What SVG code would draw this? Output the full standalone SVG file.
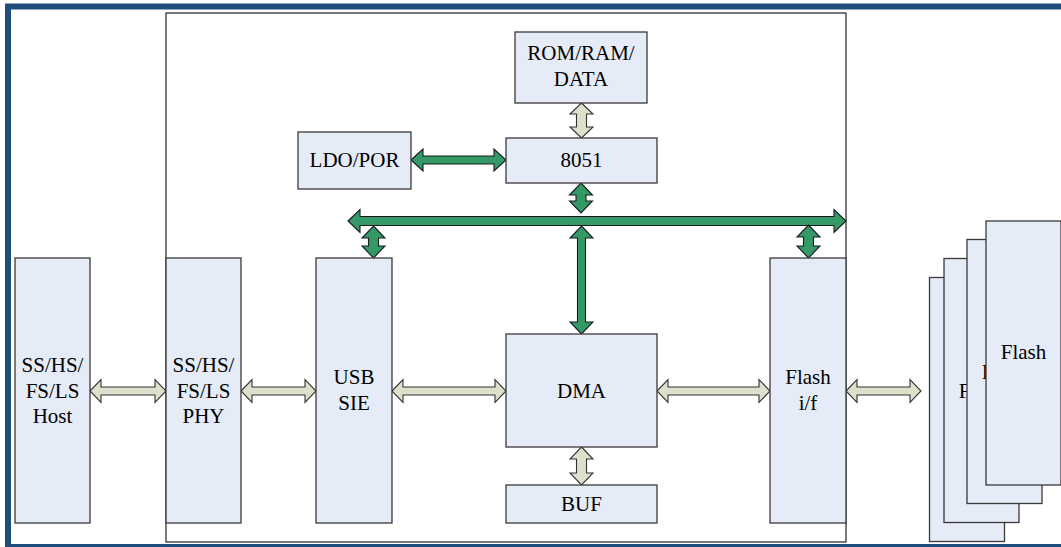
<svg xmlns="http://www.w3.org/2000/svg" width="1061" height="547" viewBox="0 0 1061 547">
<style>
.box{fill:#E5EBF7;stroke:#3a3a3a;stroke-width:1.3}
.t{font-family:"Liberation Serif","Times New Roman",serif;font-size:21px;fill:#000;text-anchor:middle}
.la{fill:#DDE1CC;stroke:#333;stroke-width:1.1;stroke-linejoin:miter}
.ga{fill:#339966;stroke:#1a1a1a;stroke-width:1.1;stroke-linejoin:miter}
</style>
<rect x="0" y="0" width="1061" height="547" fill="#fff"/>
<rect id="frame" x="8" y="6.5" width="1100" height="540.5" fill="none" stroke="#1F4E7D" stroke-width="6"/>
<rect id="chip" x="166" y="13" width="680" height="529" fill="none" stroke="#222" stroke-width="1.2"/>

<g id="connectors">
<polygon class="la" points="90,391 101,379.5 101,387 155,387 155,379.5 166,391 155,402.5 155,395 101,395 101,402.5"/>
<polygon class="la" points="241,391 252,379.5 252,387 305,387 305,379.5 316,391 305,402.5 305,395 252,395 252,402.5"/>
<polygon class="la" points="392,391 403,379.5 403,387 495,387 495,379.5 506,391 495,402.5 495,395 403,395 403,402.5"/>
<polygon class="la" points="657,391 668,379.5 668,387 759,387 759,379.5 770,391 759,402.5 759,395 668,395 668,402.5"/>
<polygon class="la" points="846,391 857,379.5 857,387 910,387 910,379.5 921,391 910,402.5 910,395 857,395 857,402.5"/>
<polygon class="la" points="581.5,103 593,114 586.5,114 586.5,127 593,127 581.5,138 570,127 576.5,127 576.5,114 570,114"/>
<polygon class="la" points="581.5,447 593,459 586.5,459 586.5,473 593,473 581.5,485 570,473 576.5,473 576.5,459 570,459"/>
<polygon class="ga" points="411,160 423,149 423,156 494,156 494,149 506,160 494,171 494,164 423,164 423,171"/>
<polygon class="ga" points="581,183 592.5,195 586,195 586,201 592.5,201 581,213 569.5,201 576,201 576,195 569.5,195"/>
<polygon class="ga" points="348,221 360,209.5 360,216.5 834,216.5 834,209.5 846,221 834,232.5 834,225.5 360,225.5 360,232.5"/>
<polygon class="ga" points="373.5,226 385,238 378.5,238 378.5,246 385,246 373.5,258 362,246 368.5,246 368.5,238 362,238"/>
<polygon class="ga" points="581.5,226 593,238 585.5,238 585.5,322 593,322 581.5,334 570,322 577.5,322 577.5,238 570,238"/>
<polygon class="ga" points="808.5,225 820,237 813.5,237 813.5,246 820,246 808.5,258 797,246 803.5,246 803.5,237 797,237"/>
</g>

<g id="host">
<rect class="box" x="15" y="258" width="75" height="265"/>
<text class="t" x="52.5" y="372">SS/HS/</text>
<text class="t" x="52.5" y="397.5">FS/LS</text>
<text class="t" x="52.5" y="423">Host</text>
</g>
<g id="phy">
<rect class="box" x="166" y="258" width="75" height="265"/>
<text class="t" x="203.5" y="372">SS/HS/</text>
<text class="t" x="203.5" y="397.5">FS/LS</text>
<text class="t" x="203.5" y="423">PHY</text>
</g>
<g id="sie">
<rect class="box" x="316" y="258" width="76" height="265"/>
<text class="t" x="354" y="384">USB</text>
<text class="t" x="354" y="409.5">SIE</text>
</g>
<g id="rom">
<rect class="box" x="515" y="32" width="132" height="71"/>
<text class="t" x="581" y="60">ROM/RAM/</text>
<text class="t" x="581" y="86">DATA</text>
</g>
<g id="ldo">
<rect class="box" x="298" y="132" width="113" height="57"/>
<text class="t" x="354.5" y="167">LDO/POR</text>
</g>
<g id="cpu8051">
<rect class="box" x="506" y="138" width="151" height="45"/>
<text class="t" x="581.5" y="167">8051</text>
</g>
<g id="dma">
<rect class="box" x="506" y="334" width="151" height="113"/>
<text class="t" x="581.5" y="397.5">DMA</text>
</g>
<g id="buf">
<rect class="box" x="506" y="485" width="151" height="38"/>
<text class="t" x="581.5" y="511">BUF</text>
</g>
<g id="flashif">
<rect class="box" x="770" y="258" width="76" height="265"/>
<text class="t" x="808" y="384">Flash</text>
<text class="t" x="808" y="409.5">i/f</text>
</g>
<g id="flash1">
<rect class="box" x="929.5" y="277.5" width="75" height="264"/>
<text class="t" x="967" y="416.5">Flash</text>
</g>
<g id="flash2">
<rect class="box" x="944" y="258.5" width="75" height="264"/>
<text class="t" x="981.5" y="397.5">Flash</text>
</g>
<g id="flash3">
<rect class="box" x="967" y="239.5" width="75" height="264"/>
<text class="t" x="1004.5" y="379">Flash</text>
</g>
<g id="flash4">
<rect class="box" x="986" y="221" width="75" height="264"/>
<text class="t" x="1023.5" y="359">Flash</text>
</g>
</svg>
